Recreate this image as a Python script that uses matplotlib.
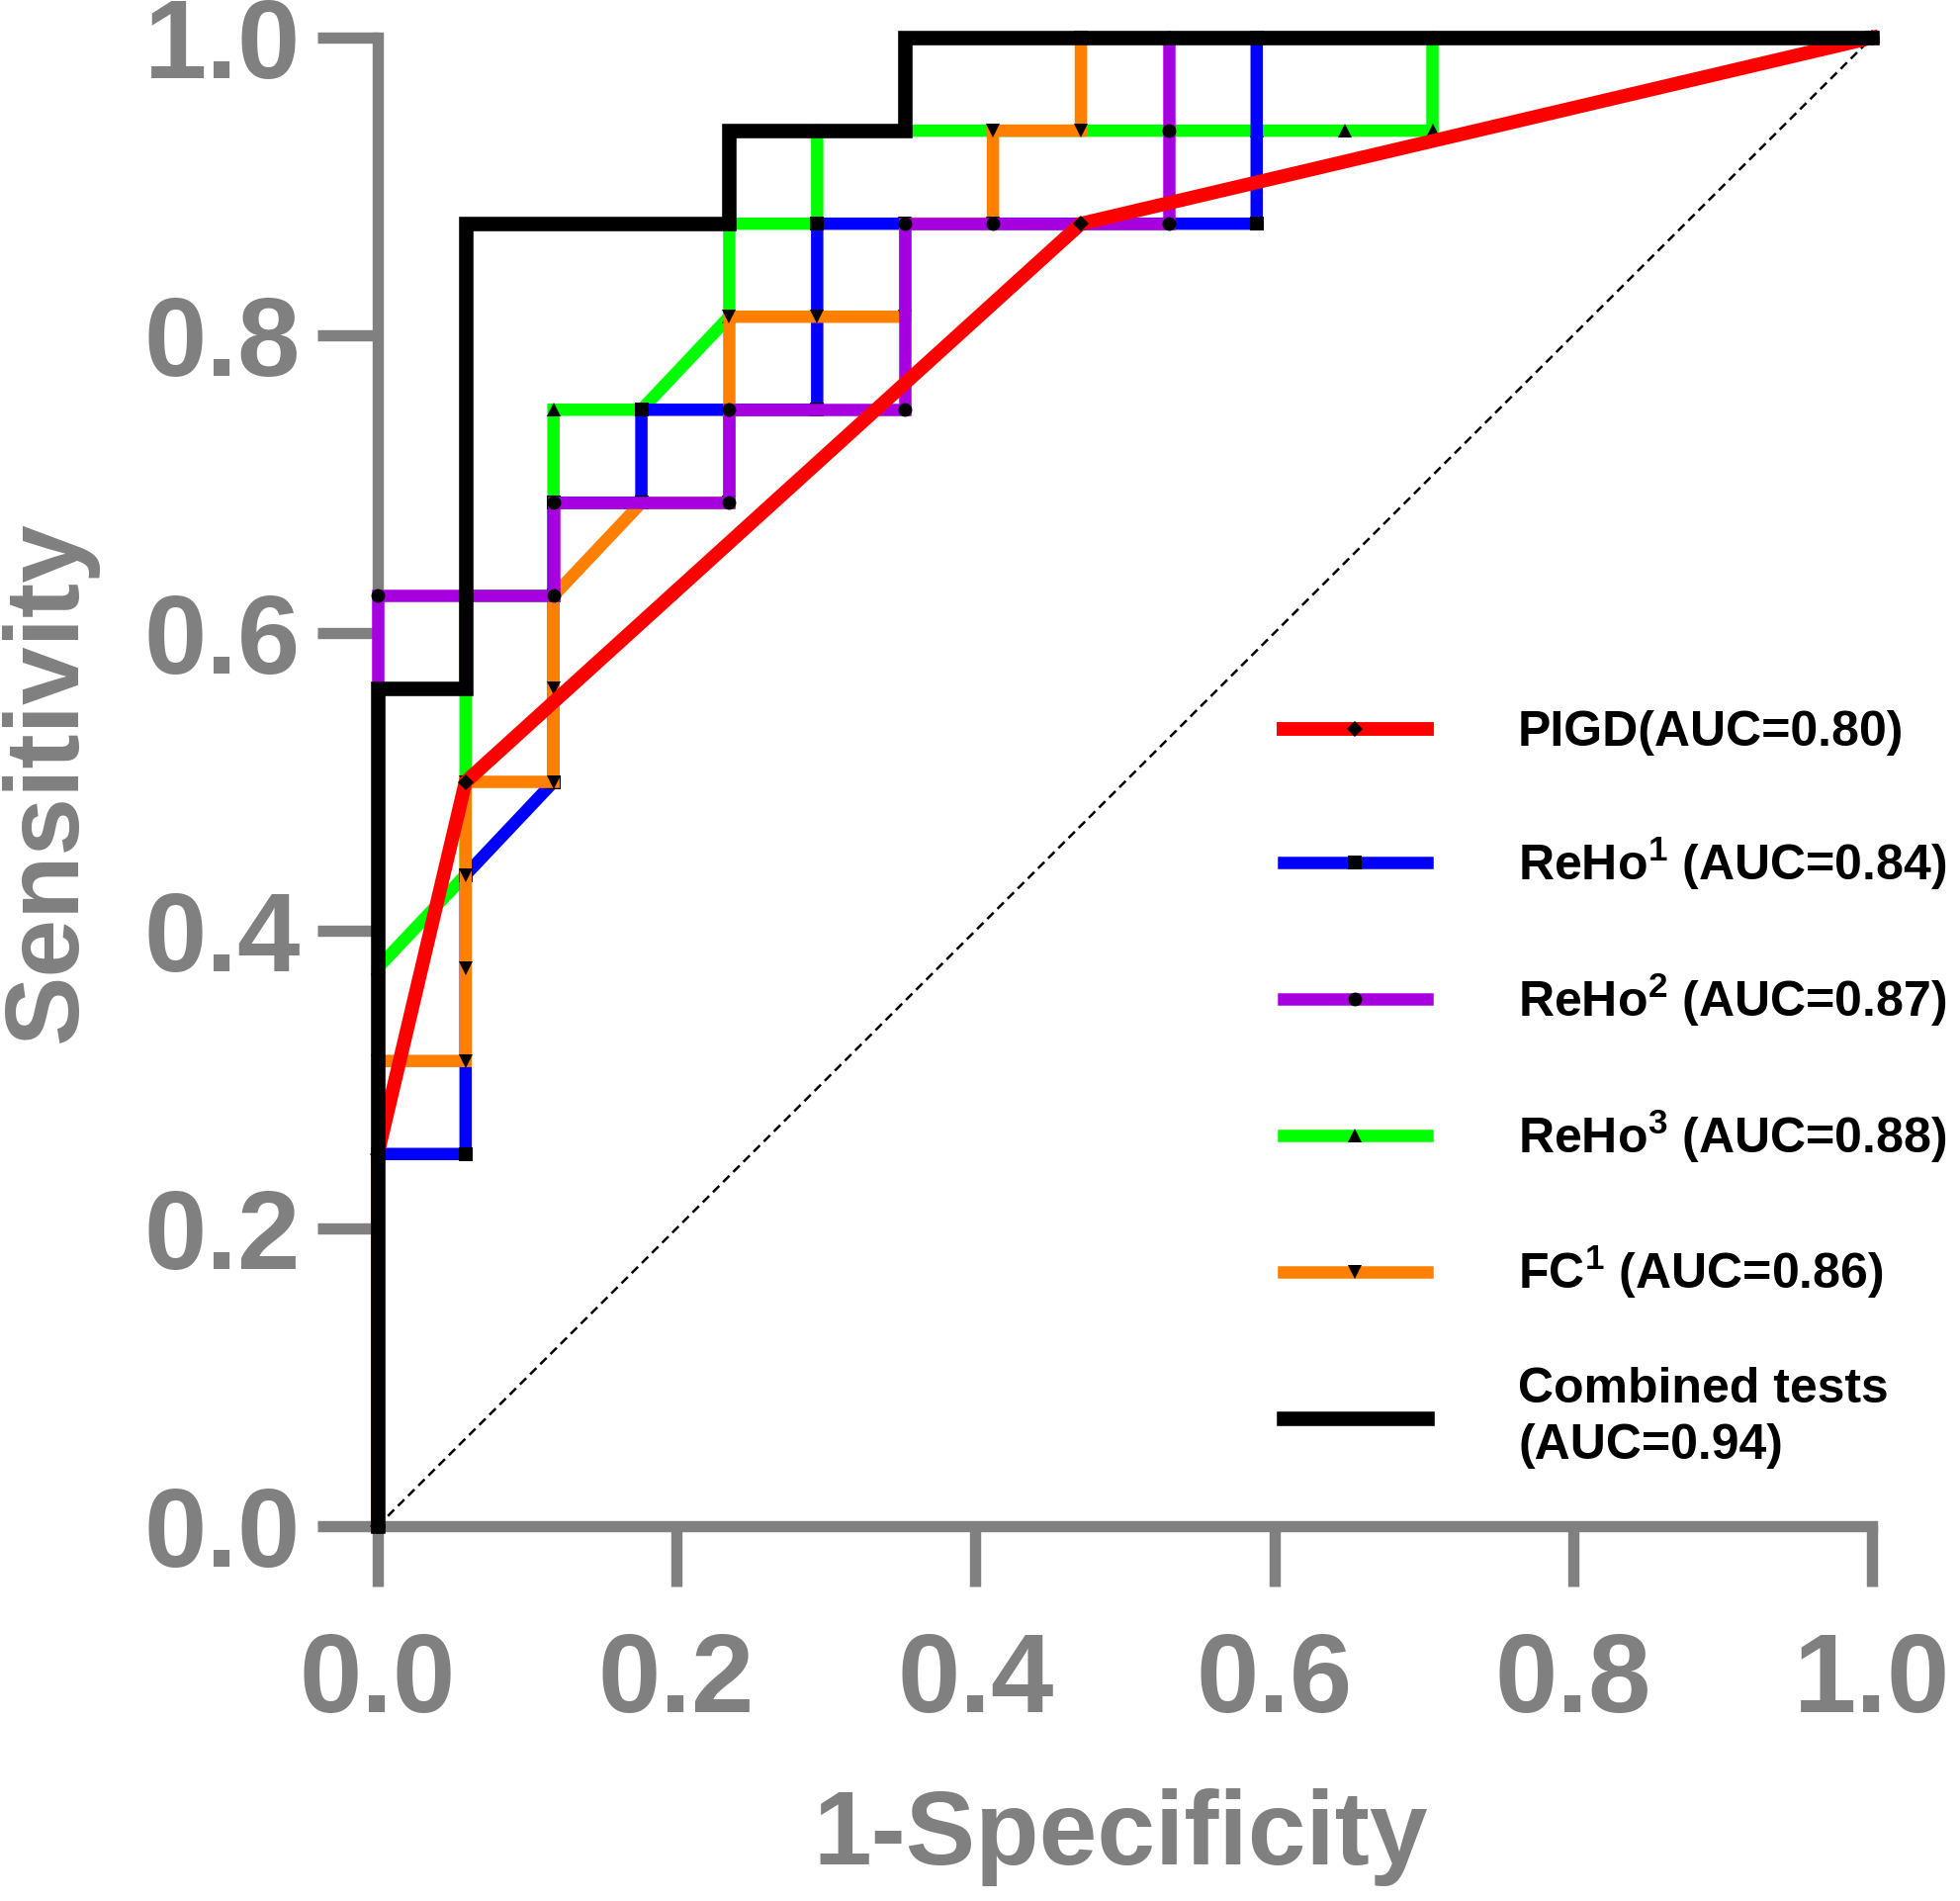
import numpy as np
import matplotlib
matplotlib.use("Agg")
import matplotlib.pyplot as plt

plt.rcParams['font.family'] = ['Liberation Sans', 'DejaVu Sans']
plt.rcParams['font.weight'] = 'bold'
plt.rcParams['mathtext.fontset'] = 'custom'
plt.rcParams['mathtext.rm'] = 'Liberation Sans:bold'
plt.rcParams['mathtext.it'] = 'Liberation Sans:bold'
plt.rcParams['mathtext.bf'] = 'Liberation Sans:bold'

# ROC points: false positives out of 17, true positives out of 16
n_neg = 17
n_pos = 16

pigd_fp = [0, 0, 1, 8, 17]
pigd_tp = [0, 4, 8, 14, 16]

reho1_fp = [0, 0, 1, 1, 2, 2, 3, 3, 5, 5, 10, 10, 17]
reho1_tp = [0, 4, 4, 7, 8, 11, 11, 12, 12, 14, 14, 16, 16]

reho2_fp = [0, 0, 2, 2, 4, 4, 6, 6, 7, 8, 9, 9, 9, 17]
reho2_tp = [0, 10, 10, 11, 11, 12, 12, 14, 14, 14, 14, 15, 16, 16]

reho3_fp = [0, 0, 1, 1, 1, 2, 2, 3, 4, 4, 5, 5, 10, 11, 12, 12, 17]
reho3_tp = [0, 6, 7, 9, 10, 10, 12, 12, 13, 14, 14, 15, 15, 15, 15, 16, 16]

fc1_fp = [0, 0, 1, 1, 1, 1, 2, 2, 2, 3, 4, 4, 5, 6, 6, 7, 7, 8, 8, 17]
fc1_tp = [0, 5, 5, 6, 7, 8, 8, 9, 10, 11, 11, 13, 13, 13, 14, 14, 15, 15, 16, 16]

comb_fp = [0, 0, 1, 1, 4, 4, 6, 6, 17]
comb_tp = [0, 9, 9, 14, 14, 15, 15, 16, 16]

labels = ['PIGD(AUC=0.80)', 'ReHo$^{1}$ (AUC=0.84)', 'ReHo$^{2}$ (AUC=0.87)',
          'ReHo$^{3}$ (AUC=0.88)', 'FC$^{1}$ (AUC=0.86)', 'Combined tests\n(AUC=0.94)']

gray = '#808080'

fig = plt.figure(figsize=(19.83, 19.22), dpi=100)
ax = fig.add_axes([0.1926, 0.1972, 0.762, 0.783])

# chance line
ax.plot([0, 1], [0, 1], color='black', lw=1.8, ls=(0, (3.6, 2.2)), zorder=1)

def roc(fp, tp, color, marker, lw, z, label, ms=10):
    x = np.array(fp) / n_neg
    y = np.array(tp) / n_pos
    line, = ax.plot(x, y, color=color, lw=lw, marker=marker, ms=ms,
                    mfc='black', mec='black', mew=0, label=label, zorder=z,
                    clip_on=False, solid_joinstyle='miter', solid_capstyle='projecting')
    return line

h_green = roc(reho3_fp, reho3_tp, '#00FF00', '^', 9, 2, labels[3])
h_blue = roc(reho1_fp, reho1_tp, '#0000FF', 's', 9, 3, labels[1])
h_orange = roc(fc1_fp, fc1_tp, '#FF8000', 'v', 9, 4, labels[4])
h_purple = roc(reho2_fp, reho2_tp, '#A600E0', 'o', 9, 5, labels[2])
h_red = roc(pigd_fp, pigd_tp, '#FF0000', 'D', 10, 6, labels[0], ms=8)
h_black = roc(comb_fp, comb_tp, 'black', None, 10.5, 7, labels[5])

ax.set_xlim(0, 1)
ax.set_ylim(0, 1)
ticks = [0.0, 0.2, 0.4, 0.6, 0.8, 1.0]
ax.set_xticks(ticks)
ax.set_yticks(ticks)
ax.set_xticklabels(['%.1f' % t for t in ticks])
ax.set_yticklabels(['%.1f' % t for t in ticks])
for s in ['top', 'right']:
    ax.spines[s].set_visible(False)
for s in ['left', 'bottom']:
    ax.spines[s].set_color(gray)
    ax.spines[s].set_linewidth(8.2)
ax.tick_params(axis='both', colors=gray, length=44, width=8.2, labelsize=82)
ax.tick_params(axis='x', pad=32)
ax.tick_params(axis='y', pad=12)
for t in ax.get_xticklabels() + ax.get_yticklabels():
    t.set_fontweight('bold')

ax.set_xlabel('1-Specificity', fontsize=76, fontweight='bold', color=gray)
ax.set_ylabel('Sensitivity', fontsize=76, fontweight='bold', color=gray)
ax.xaxis.set_label_coords(0.497, -0.176)
ax.yaxis.set_label_coords(-0.187, 0.5)

leg_kw = dict(frameon=False, fontsize=36, handlelength=2.9, handletextpad=1.85,
              borderpad=0, borderaxespad=0, numpoints=1)
leg = ax.legend(handles=[h_red, h_blue, h_purple, h_green, h_orange],
                loc='upper left', bbox_to_anchor=(0.606, 0.548),
                labelspacing=1.6, **leg_kw)
for t in leg.get_texts():
    t.set_fontweight('bold')
ax.add_artist(leg)

# combined entry has a two-line label; give it its own legend
leg2 = ax.legend(handles=[h_black], loc='center left', bbox_to_anchor=(0.606, 0.073), **leg_kw)
for t in leg2.get_texts():
    t.set_fontweight('bold')
    t.set_linespacing(1.3)

fig.savefig('out.png', dpi=100)
